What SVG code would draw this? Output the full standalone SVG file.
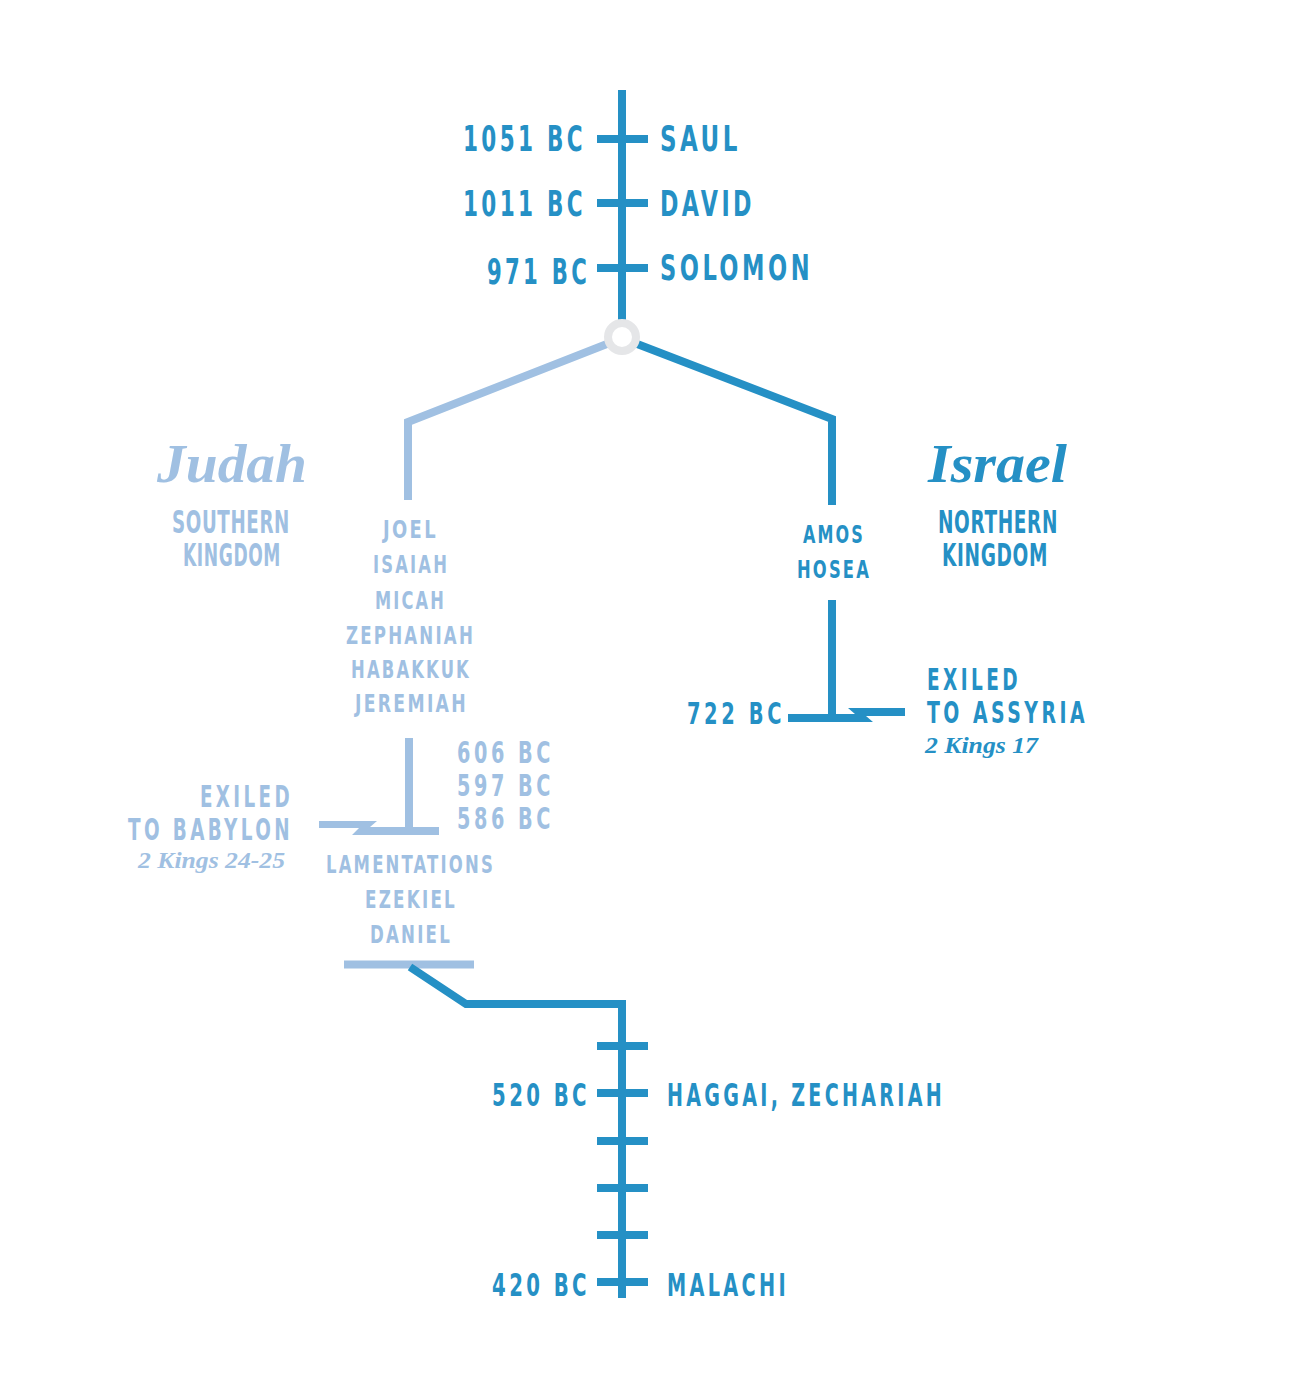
<svg xmlns="http://www.w3.org/2000/svg" width="1314" height="1375" viewBox="0 0 1314 1375">
<style>
.dk{stroke:#2590c5;fill:none;stroke-width:8}
.lt{stroke:#a0c0e2;fill:none;stroke-width:8}
.fd{fill:#2590c5}
.fl{fill:#a0c0e2}
.t{font-family:'Liberation Sans Narrow','DejaVu Sans Condensed','Roboto',sans-serif;font-weight:bold}
.w{letter-spacing:5px}
.m{letter-spacing:3px}
.n{letter-spacing:1px}
.s{font-family:'Liberation Serif',serif;font-style:italic;font-weight:bold}
</style>
<rect width="1314" height="1375" fill="#ffffff"/>
<g id="connectors">
  <line class="dk" x1="622" y1="90" x2="622" y2="325"/>
  <rect class="fd" x="597" y="135" width="51" height="8"/>
  <rect class="fd" x="597" y="199" width="51" height="8"/>
  <rect class="fd" x="597" y="264" width="51" height="8"/>
  <polyline class="lt" points="612,342 408,422 408,500"/>
  <polyline class="dk" points="632,342 832,419 832,505"/>
  <circle cx="622" cy="337" r="14" fill="#ffffff" stroke="#e5e6e8" stroke-width="8"/>
  <line class="dk" x1="832" y1="600" x2="832" y2="718"/>
  <polygon class="fd" points="788,714 855,714 848,708 905,708 905,716 866,716 873,722 788,722"/>
  <line class="lt" x1="409" y1="738" x2="409" y2="831"/>
  <polygon class="fl" points="319,821 377,821 370,827 439,827 439,835 352,835 359,828 319,828"/>
  <line class="lt" x1="344" y1="964.5" x2="474" y2="964.5" stroke-width="7.5"/>
  <polyline class="dk" points="410,967 466,1004 622,1004 622,1298" stroke-width="7.5"/>
  <rect class="fd" x="597" y="1042" width="51" height="8"/>
  <rect class="fd" x="597" y="1089" width="51" height="8"/>
  <rect class="fd" x="597" y="1137" width="51" height="8"/>
  <rect class="fd" x="597" y="1184" width="51" height="8"/>
  <rect class="fd" x="597" y="1231" width="51" height="8"/>
  <rect class="fd" x="597" y="1278" width="51" height="8"/>
</g>
<g id="saul" class="t w fd" font-size="36">
  <text x="463" y="151" textLength="123" lengthAdjust="spacingAndGlyphs">1051 BC</text>
  <text x="660" y="151" textLength="81" lengthAdjust="spacingAndGlyphs">SAUL</text>
</g>
<g id="david" class="t w fd" font-size="36">
  <text x="463" y="216" textLength="123" lengthAdjust="spacingAndGlyphs">1011 BC</text>
  <text x="660" y="216" textLength="95" lengthAdjust="spacingAndGlyphs">DAVID</text>
</g>
<g id="solomon" class="t w fd" font-size="36">
  <text x="487" y="284" textLength="103" lengthAdjust="spacingAndGlyphs">971 BC</text>
  <text x="660" y="280" textLength="153" lengthAdjust="spacingAndGlyphs">SOLOMON</text>
</g>
<g id="judah" class="fl">
  <text class="s" x="157" y="482" font-size="54" textLength="150" lengthAdjust="spacingAndGlyphs">Judah</text>
  <text class="t n" x="172" y="533" font-size="32" textLength="118" lengthAdjust="spacingAndGlyphs">SOUTHERN</text>
  <text class="t n" x="183" y="566" font-size="32" textLength="98" lengthAdjust="spacingAndGlyphs">KINGDOM</text>
</g>
<g id="israel" class="fd">
  <text class="s" x="928" y="482" font-size="54" textLength="139" lengthAdjust="spacingAndGlyphs">Israel</text>
  <text class="t n" x="938" y="533" font-size="32" textLength="120" lengthAdjust="spacingAndGlyphs">NORTHERN</text>
  <text class="t n" x="942" y="566" font-size="32" textLength="106" lengthAdjust="spacingAndGlyphs">KINGDOM</text>
</g>
<g id="judah-prophets" class="t m fl" font-size="25">
  <text x="383" y="538" textLength="55" lengthAdjust="spacingAndGlyphs">JOEL</text>
  <text x="373" y="573" textLength="76" lengthAdjust="spacingAndGlyphs">ISAIAH</text>
  <text x="375" y="609" textLength="71" lengthAdjust="spacingAndGlyphs">MICAH</text>
  <text x="346" y="644" textLength="129" lengthAdjust="spacingAndGlyphs">ZEPHANIAH</text>
  <text x="351" y="678" textLength="120" lengthAdjust="spacingAndGlyphs">HABAKKUK</text>
  <text x="355" y="712" textLength="113" lengthAdjust="spacingAndGlyphs">JEREMIAH</text>
</g>
<g id="israel-prophets" class="t m fd" font-size="25">
  <text x="803" y="543" textLength="62" lengthAdjust="spacingAndGlyphs">AMOS</text>
  <text x="797" y="578" textLength="74" lengthAdjust="spacingAndGlyphs">HOSEA</text>
</g>
<g id="assyria" class="fd">
  <text class="t w" x="687" y="724" font-size="30" textLength="98" lengthAdjust="spacingAndGlyphs">722 BC</text>
  <text class="t w" x="927" y="690" font-size="30" textLength="94" lengthAdjust="spacingAndGlyphs">EXILED</text>
  <text class="t w" x="927" y="723" font-size="30" textLength="161" lengthAdjust="spacingAndGlyphs">TO ASSYRIA</text>
  <text class="s" x="925" y="753" font-size="23" textLength="113" lengthAdjust="spacingAndGlyphs">2 Kings 17</text>
</g>
<g id="babylon" class="fl">
  <text class="t w" x="457" y="763" font-size="30" textLength="97" lengthAdjust="spacingAndGlyphs">606 BC</text>
  <text class="t w" x="457" y="796" font-size="30" textLength="97" lengthAdjust="spacingAndGlyphs">597 BC</text>
  <text class="t w" x="457" y="829" font-size="30" textLength="97" lengthAdjust="spacingAndGlyphs">586 BC</text>
  <text class="t w" x="200" y="807" font-size="30" textLength="93" lengthAdjust="spacingAndGlyphs">EXILED</text>
  <text class="t w" x="128" y="840" font-size="30" textLength="165" lengthAdjust="spacingAndGlyphs">TO BABYLON</text>
  <text class="s" x="138" y="868" font-size="23" textLength="147" lengthAdjust="spacingAndGlyphs">2 Kings 24-25</text>
</g>
<g id="exile-prophets" class="t m fl" font-size="25">
  <text x="326" y="873" textLength="169" lengthAdjust="spacingAndGlyphs">LAMENTATIONS</text>
  <text x="365" y="908" textLength="92" lengthAdjust="spacingAndGlyphs">EZEKIEL</text>
  <text x="370" y="943" textLength="82" lengthAdjust="spacingAndGlyphs">DANIEL</text>
</g>
<g id="haggai" class="t w fd" font-size="32">
  <text x="492" y="1106" textLength="98" lengthAdjust="spacingAndGlyphs">520 BC</text>
  <text x="667" y="1106" textLength="278" lengthAdjust="spacingAndGlyphs">HAGGAI, ZECHARIAH</text>
</g>
<g id="malachi" class="t w fd" font-size="32">
  <text x="492" y="1296" textLength="98" lengthAdjust="spacingAndGlyphs">420 BC</text>
  <text x="667" y="1296" textLength="122" lengthAdjust="spacingAndGlyphs">MALACHI</text>
</g>
</svg>
